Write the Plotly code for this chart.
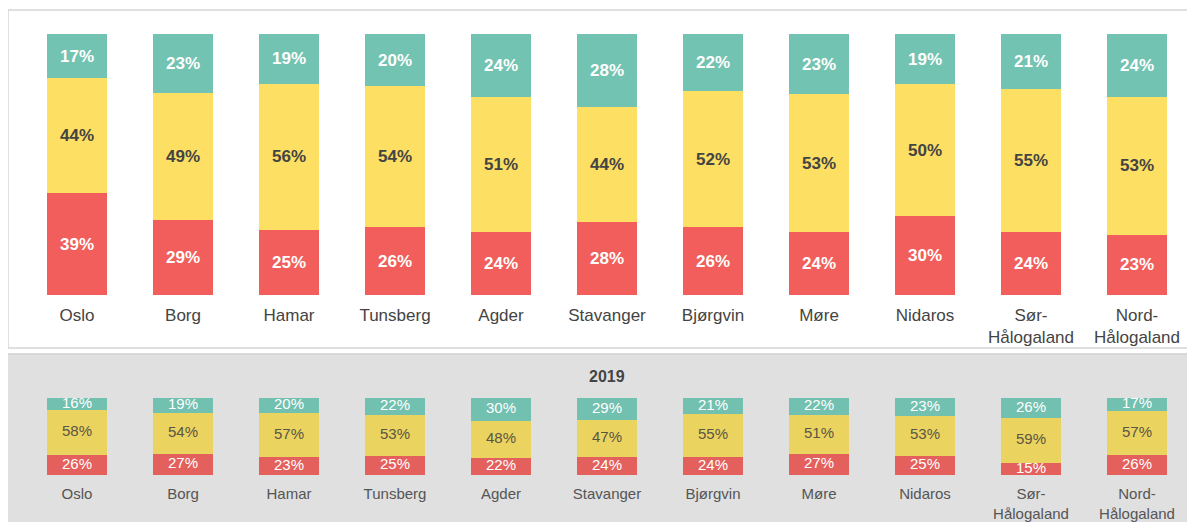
import plotly.graph_objects as go

categories = ["Oslo", "Borg", "Hamar", "Tunsberg", "Agder", "Stavanger", "Bjørgvin",
              "Møre", "Nidaros", "Sør-Hålogaland", "Nord-Hålogaland"]
tick_labels = ["Oslo", "Borg", "Hamar", "Tunsberg", "Agder", "Stavanger", "Bjørgvin",
               "Møre", "Nidaros", "Sør-<br>Hålogaland", "Nord-<br>Hålogaland"]

cur_red = [39, 29, 25, 26, 24, 28, 26, 24, 30, 24, 23]
cur_yellow = [44, 49, 56, 54, 51, 44, 52, 53, 50, 55, 53]
cur_teal = [17, 23, 19, 20, 24, 28, 22, 23, 19, 21, 24]

prev_red = [26, 27, 23, 25, 22, 24, 24, 27, 25, 15, 26]
prev_yellow = [58, 54, 57, 53, 48, 47, 55, 51, 53, 59, 57]
prev_teal = [16, 19, 20, 22, 30, 29, 21, 22, 23, 26, 17]

prev_title = "2019"

W, H = 1195, 522
OFF = 8  # page body margin offset
FONT = "Liberation Sans, Arial, sans-serif"

fig = go.Figure()


def add_stack(vals, color, txtcolor, xa, ya):
    fig.add_trace(go.Bar(
        x=categories, y=vals, marker=dict(color=color, line=dict(width=0)),
        text=[f"<b>{v}%</b>" for v in vals], textposition="inside",
        insidetextanchor="middle",
        textfont=dict(family=FONT, size=17, color=txtcolor),
        xaxis=xa, yaxis=ya, showlegend=False, hoverinfo="skip", textangle=0,
    ))


add_stack(cur_red, "#f15e5b", "#ffffff", "x", "y")
add_stack(cur_yellow, "#fddf63", "#444444", "x", "y")
add_stack(cur_teal, "#72c3b1", "#ffffff", "x", "y")

# previous-year stacks (labels drawn as text at segment midpoints)
prev_series = [(prev_red, "#e4605d", "#ffffff"),
               (prev_yellow, "#ead35f", "#5a5545"),
               (prev_teal, "#72c0b0", "#ffffff")]
totals = [sum(t) for t in zip(prev_red, prev_yellow, prev_teal)]
base = [0.0] * len(categories)
for vals, color, tcol in prev_series:
    pct = [v / t * 100 for v, t in zip(vals, totals)]
    fig.add_trace(go.Bar(
        x=categories, y=pct, marker=dict(color=color, line=dict(width=0)),
        xaxis="x2", yaxis="y2", showlegend=False, hoverinfo="skip",
    ))
    mids = [b + p / 2 for b, p in zip(base, pct)]
    fig.add_trace(go.Scatter(
        x=categories, y=mids, mode="text", text=[f"{v}%" for v in vals],
        textposition="middle center",
        textfont=dict(family=FONT, size=15, color=tcol),
        xaxis="x2", yaxis="y2", showlegend=False, hoverinfo="skip", cliponaxis=False,
    ))
    base = [b + p for b, p in zip(base, pct)]

xdom = [(24 - OFF) / W, (1190 - OFF) / W]
xrange = [-0.5, len(categories) - 0.5]


def ypaper(px):
    return 1 - (px - OFF) / H


def xpaper(px):
    return (px - OFF) / W


fig.update_layout(
    width=W, height=H, margin=dict(l=0, r=0, t=0, b=0),
    paper_bgcolor="#ffffff", plot_bgcolor="rgba(0,0,0,0)",
    barmode="stack", barnorm="percent", bargap=1 - 60 / 106,
    font=dict(family=FONT, color="#444444"),
    xaxis=dict(domain=xdom, anchor="y", range=xrange, tickmode="array",
               tickvals=categories, ticktext=tick_labels, showgrid=False,
               zeroline=False, showline=False, ticks="",
               tickfont=dict(size=17, color="#444444"), ticklabelstandoff=8,
               fixedrange=True),
    yaxis=dict(domain=[ypaper(295), ypaper(34)], range=[0, 100], visible=False,
               fixedrange=True),
    xaxis2=dict(domain=xdom, anchor="y2", range=xrange, tickmode="array",
                tickvals=categories, ticktext=tick_labels, showgrid=False,
                zeroline=False, showline=False, ticks="",
                tickfont=dict(size=15, color="#555555"), ticklabelstandoff=8,
                fixedrange=True),
    yaxis2=dict(domain=[ypaper(475), ypaper(398)], range=[0, 100], visible=False,
                fixedrange=True),
    shapes=[
        dict(type="rect", xref="paper", yref="paper",
             x0=xpaper(8), x1=1.01, y0=ypaper(348), y1=ypaper(10),
             fillcolor="#ffffff", line=dict(color="#d6d6d6", width=1.5), layer="below"),
        dict(type="rect", xref="paper", yref="paper",
             x0=xpaper(7), x1=1.01, y0=-0.05, y1=ypaper(354),
             fillcolor="#e0e0e0", line=dict(color="#cfcfcf", width=1.5), layer="below"),
    ],
    annotations=[
        dict(text=f"<b>{prev_title}</b>", xref="paper", yref="paper",
             x=(xdom[0] + xdom[1]) / 2, y=ypaper(376), xanchor="center", yanchor="middle",
             showarrow=False, font=dict(family=FONT, size=16, color="#444444")),
    ],
)

fig.write_html("out.html")
